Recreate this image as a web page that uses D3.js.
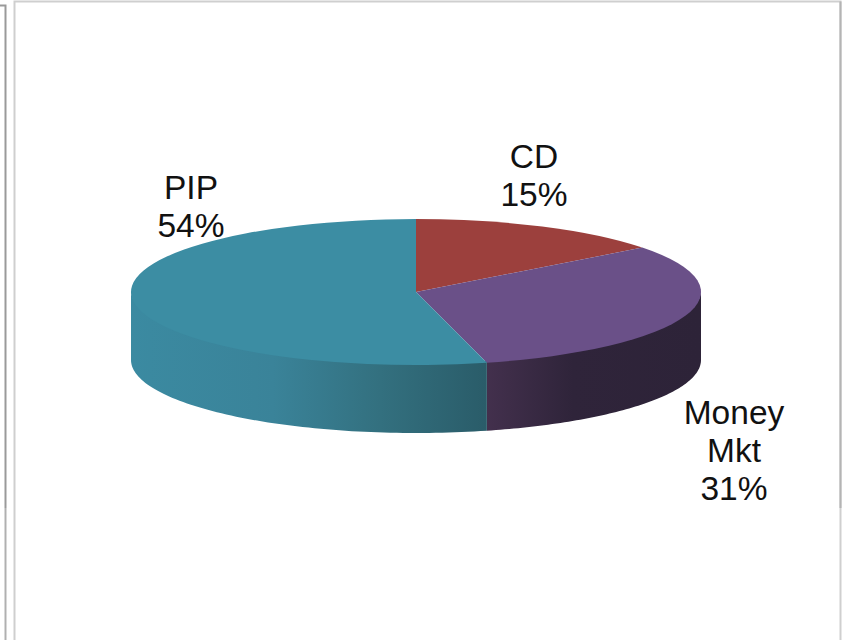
<!DOCTYPE html>
<html><head><meta charset="utf-8">
<script src="https://cdnjs.cloudflare.com/ajax/libs/d3/7.9.0/d3.min.js"></script>
<style>html,body{margin:0;padding:0;background:#fff}svg{display:block}</style>
</head><body><svg id="c" width="842" height="640"></svg>
<script>
const categories = ["CD", "Money Mkt", "PIP"];
const labelLines = [["CD"], ["Money", "Mkt"], ["PIP"]];
const values = [14.6, 31.4, 54];
const topColors = ["#9c403d", "#6a5088", "#3c8da3"];
const wallStops = [
  [],
  [[0, "#43304d"], [0.4, "#2f243a"], [1, "#2d2338"]],
  [[0, "#3b8aa1"], [0.4, "#3a8399"], [0.7, "#33707f"], [1, "#2a5c69"]]
];
const labelPos = [[534, 168], [734, 423.5], [191, 199]];

const cx = 416, cy = 292, rx = 285, ry = 73, depth = 68;
const svg = d3.select("#c");
const defs = svg.append("defs");

// frames
const frame = svg.append("g").attr("fill", "none");
frame.append("path").attr("d", "M0 5.5H5.5V508").attr("stroke", "#9a9a9a").attr("stroke-width", 2);
frame.append("path").attr("d", "M5.5 508V640").attr("stroke", "#b0b0b0").attr("stroke-width", 2);
frame.append("path").attr("d", "M14.5 640V1.5H840.5V640").attr("stroke", "#cfcfcf").attr("stroke-width", 2);
frame.append("path").attr("d", "M840.5 1.5V508").attr("stroke", "#b4b4b4").attr("stroke-width", 2);

const pie = d3.pie().sort(null).value(d => d);
const arcs = pie(values);
const px = a => cx + rx * Math.sin(a);
const py = a => cy - ry * Math.cos(a);

// side walls: only the front half of the ellipse (90deg..270deg) is visible
const lo = Math.PI / 2, hi = 3 * Math.PI / 2;
arcs.forEach((d, i) => {
  const a0 = Math.max(d.startAngle, lo), a1 = Math.min(d.endAngle, hi);
  if (a1 <= a0) return;
  const left = px(a1), right = px(a0);
  const id = "wall" + i;
  const g = defs.append("linearGradient").attr("id", id)
    .attr("gradientUnits", "userSpaceOnUse")
    .attr("x1", left).attr("x2", right).attr("y1", 0).attr("y2", 0);
  wallStops[i].forEach(s => g.append("stop").attr("offset", s[0]).attr("stop-color", s[1]));
  const p = d3.path();
  p.moveTo(px(a0), py(a0) - 2);
  const steps = 80;
  d3.range(1, steps + 1).forEach(k => {
    const a = a0 + (a1 - a0) * k / steps;
    p.lineTo(px(a), py(a) - 2);
  });
  p.lineTo(px(a1), py(a1) + depth);
  d3.range(steps - 1, -1, -1).forEach(k => {
    const a = a0 + (a1 - a0) * k / steps;
    p.lineTo(px(a), py(a) + depth);
  });
  p.closePath();
  svg.append("path").attr("d", p.toString()).attr("fill", `url(#${id})`);
});

// top face
const arc = d3.arc().innerRadius(0).outerRadius(rx);
svg.append("g").attr("transform", `translate(${cx},${cy}) scale(1,${ry / rx})`)
  .selectAll("path").data(arcs).join("path")
  .attr("d", arc).attr("fill", (d, i) => topColors[i]);

// labels
const text = svg.append("g").attr("font-family", "'Liberation Sans', Arial, sans-serif")
  .attr("font-size", 33.5).attr("fill", "#111").attr("text-anchor", "middle");
categories.forEach((c, i) => {
  const lines = labelLines[i].concat(Math.round(values[i]) + "%");
  lines.forEach((t, k) => {
    text.append("text").attr("x", labelPos[i][0]).attr("y", labelPos[i][1] + k * 38).text(t);
  });
});
</script></body></html>
